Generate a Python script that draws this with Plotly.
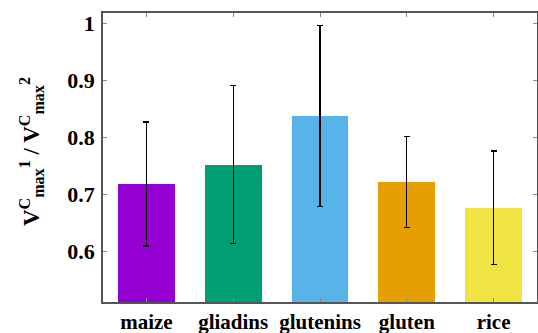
import plotly.graph_objects as go

categories = ["maize", "gliadins", "glutenins", "gluten", "rice"]
values = [0.718, 0.752, 0.838, 0.722, 0.676]
errors = [0.109, 0.139, 0.159, 0.080, 0.100]
colors = ["#9400D3", "#009E73", "#56B4E9", "#E69F00", "#F0E442"]
yticks = [0.6, 0.7, 0.8, 0.9, 1.0]
yticklabels = ["0.6", "0.7", "0.8", "0.9", "1"]

FAM = "Liberation Serif"

fig = go.Figure()
fig.add_trace(go.Bar(
    x=categories, y=values,
    marker=dict(color=colors, line=dict(width=0)),
    width=0.655,
    error_y=dict(type="data", array=errors, visible=True, color="black",
                 thickness=1.2, width=3),
))

fig.update_layout(
    template="none",
    width=538, height=333,
    margin=dict(l=103, r=1, t=13, b=31),
    plot_bgcolor="white", paper_bgcolor="white",
    showlegend=False,
    font=dict(family=FAM, size=21, color="black", weight="bold"),
    bargap=0,
)
fig.update_xaxes(
    range=[-0.5, 4.5],
    showline=True, linecolor="#555", linewidth=1.5, mirror="ticks",
    ticks="inside", ticklen=4, tickcolor="#888",
    tickfont=dict(family=FAM, size=21, color="black", weight="bold"),
    showgrid=False, ticklabelstandoff=0,
)
fig.update_yaxes(
    range=[0.5105, 1.0186],
    tickvals=yticks, ticktext=yticklabels,
    showline=True, linecolor="#555", linewidth=1.5, mirror="ticks",
    ticks="inside", ticklen=4, tickcolor="#888",
    tickfont=dict(family=FAM, size=22, color="black", weight="bold"),
    showgrid=False, zeroline=False, ticklabelstandoff=2,
)
fig.add_annotation(
    xref="paper", yref="paper", x=-0.165, y=0.52,
    xanchor="center", yanchor="middle", textangle=-90, showarrow=False,
    text="<b>V<sup>C</sup><sub>max</sub><sup>1</sup> / V<sup>C</sup><sub>max</sub><sup>2</sup></b>",
    font=dict(family=FAM, size=23, color="black"),
)

fig.write_html("out.html")
